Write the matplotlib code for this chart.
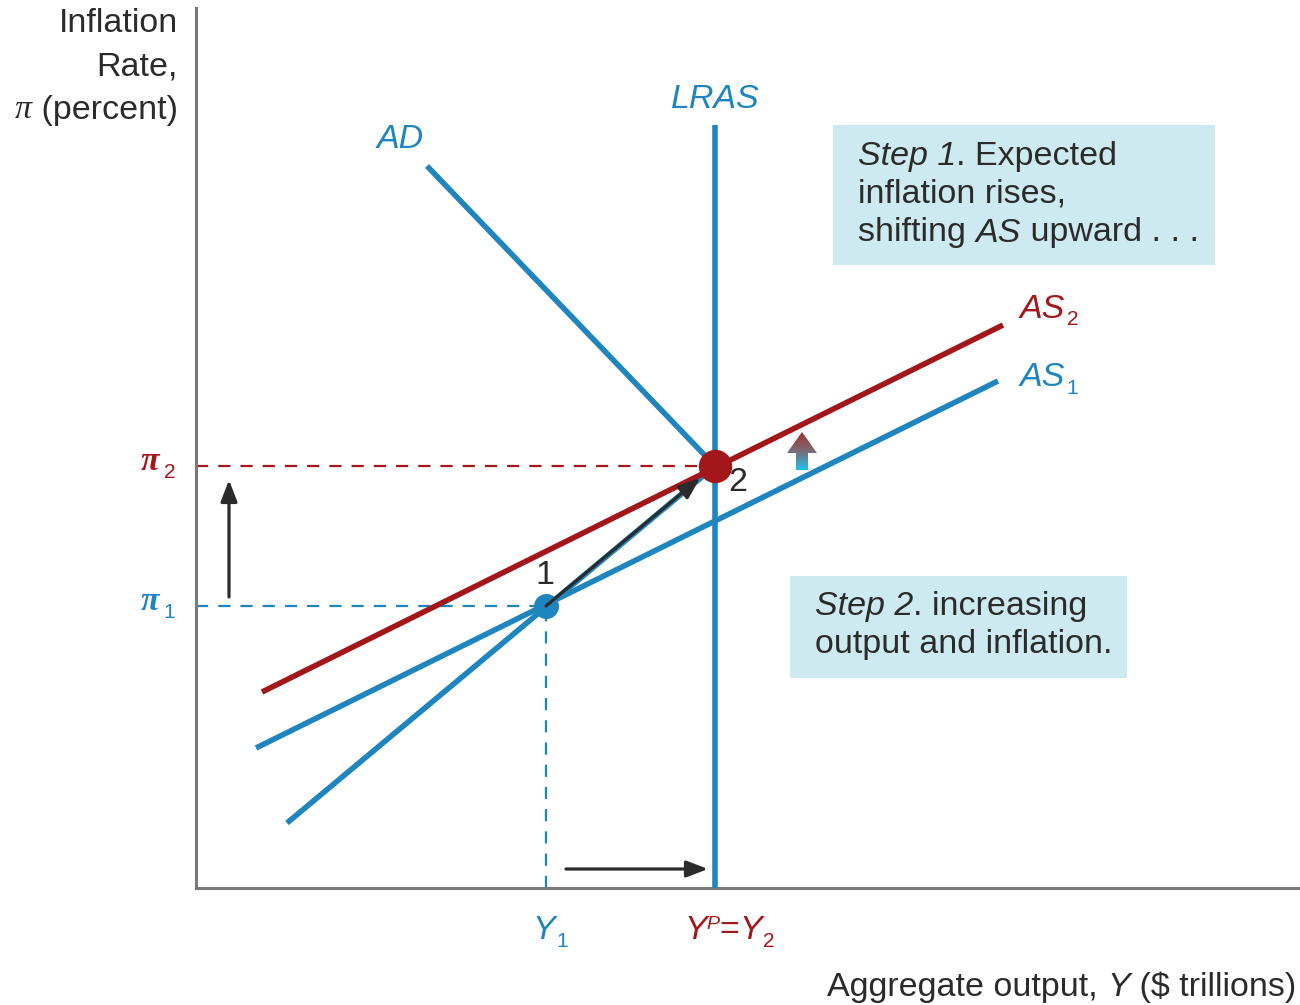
import matplotlib.pyplot as plt
import matplotlib.patches as mpatches
import numpy as np
from matplotlib.colors import LinearSegmentedColormap

plt.rcParams["font.family"] = ["Liberation Sans", "DejaVu Sans"]

BLUE = "#1e85bf"
RED = "#a3171b"
GRAY = "#7a7a7a"
BOX = "#cdeaf1"
INK = "#2b2b2b"

# Схематические значения (условные единицы)
Y1 = 3.50          # выпуск в точке 1
YP = 5.19          # потенциальный выпуск = Y2
PI1 = 2.82         # инфляция в точке 1
PI2 = 4.22         # инфляция в точке 2
LRAS_TOP = 7.63

AD_X = [2.31, YP]
AD_Y = [7.22, PI2]
AS1_X = [0.60, 8.02]
AS1_Y = [1.40, 5.07]
AS2_X = [0.66, 8.07]
AS2_Y = [1.96, 5.63]
PATH_X = [0.91, YP]
PATH_Y = [0.65, PI2]

fig = plt.figure(figsize=(13, 10.05), dpi=100)
W, H = 1300, 1005
ax = fig.add_axes([196 / W, (H - 888) / H, (W - 196) / W, (888 - 8) / H])
ax.set_xlim(0, 11.04)
ax.set_ylim(0, 8.80)
ax.set_xticks([])
ax.set_yticks([])
for s in ["top", "right"]:
    ax.spines[s].set_visible(False)
for s in ["left", "bottom"]:
    ax.spines[s].set_color(GRAY)
    ax.spines[s].set_linewidth(2.2)

# Пунктирные направляющие
dash = (5.5, 4.5)
ax.plot([0, YP], [PI2, PI2], color=RED, lw=1.6, dashes=dash)
ax.plot([0, Y1], [PI1, PI1], color=BLUE, lw=1.6, dashes=dash)
ax.plot([Y1, Y1], [0, PI1], color=BLUE, lw=1.6, dashes=dash)

# Кривые
lw = 4.0
ax.plot(PATH_X, PATH_Y, color=BLUE, lw=lw, solid_capstyle="butt")
ax.plot(AS1_X, AS1_Y, color=BLUE, lw=lw, solid_capstyle="butt")
ax.plot(AD_X, AD_Y, color=BLUE, lw=lw, solid_capstyle="butt")
ax.plot([YP, YP], [0, LRAS_TOP], color=BLUE, lw=lw, solid_capstyle="butt", zorder=3)
ax.plot(AS2_X, AS2_Y, color=RED, lw=lw, solid_capstyle="butt", zorder=4)

# Точки равновесия
ax.plot([Y1], [PI1], "o", color=BLUE, ms=17, zorder=5)
ax.plot([YP], [PI2], "o", color=RED, ms=23, zorder=6)

# Стрелки
arrow_kw = dict(arrowstyle="-|>,head_length=1.3,head_width=0.5", color=INK, lw=2.3,
                shrinkA=0, shrinkB=0)
ax.annotate("", xy=(5.04, 4.10), xytext=(Y1, PI1), arrowprops=arrow_kw, zorder=7)
ax.annotate("", xy=(0.33, 4.08), xytext=(0.33, 2.91), arrowprops=arrow_kw)
ax.annotate("", xy=(5.12, 0.19), xytext=(3.70, 0.19), arrowprops=arrow_kw)

# Градиентная стрелка сдвига AS
ax_x, y0, y1 = 6.06, 4.18, 4.56
hw, tw, hl = 0.15, 0.06, 0.21
poly = mpatches.Polygon([[ax_x - tw, y0], [ax_x + tw, y0], [ax_x + tw, y1 - hl],
                         [ax_x + hw, y1 - hl], [ax_x, y1], [ax_x - hw, y1 - hl],
                         [ax_x - tw, y1 - hl]], closed=True, facecolor="none",
                        edgecolor="none")
ax.add_patch(poly)
cmap = LinearSegmentedColormap.from_list("g", ["#1fc0ea", "#7a6a78", "#a2332c"])
grad = np.linspace(0, 1, 100).reshape(-1, 1)
im = ax.imshow(grad, extent=[ax_x - hw, ax_x + hw, y0, y1], origin="lower",
               cmap=cmap, aspect="auto", zorder=5)
im.set_clip_path(poly)

fs = 24.5


def chain(prev, text, **kw):
    """Дописывает текст сразу за предыдущим фрагментом."""
    return ax.annotate(text, xy=(1, 0), xycoords=prev, va="bottom", ha="left",
                       fontsize=kw.pop("fontsize", fs), **kw)


# Подписи кривых
ax.text(YP, 7.88, "LRAS", color=BLUE, fontsize=fs, style="italic", ha="center", va="center")
ax.text(2.04, 7.48, "AD", color=BLUE, fontsize=fs, style="italic", ha="center", va="center")
t = ax.text(8.24, 5.79, "AS", color=RED, fontsize=fs, style="italic", ha="left",
            va="center")
chain(t, "2", color=RED, fontsize=15, xytext=(1, -3), textcoords="offset points")
t = ax.text(8.24, 5.10, "AS", color=BLUE, fontsize=fs, style="italic", ha="left",
            va="center")
chain(t, "1", color=BLUE, fontsize=15, xytext=(1, -3), textcoords="offset points")
ax.text(3.49, 3.13, "1", color=INK, fontsize=fs, ha="center", va="center")
ax.text(5.42, 4.06, "2", color=INK, fontsize=fs, ha="center", va="center")

# Подписи на осях
for val, col, sub in [(PI2, RED, "2"), (PI1, BLUE, "1")]:
    t = ax.text(-0.55, val + 0.05, "π", color=col, fontsize=fs, family="Liberation Serif",
                style="italic", weight="bold", ha="left", va="center", clip_on=False)
    chain(t, sub, color=col, fontsize=15, xytext=(3, -4), textcoords="offset points")

t = ax.text(Y1 - 0.14, -0.42, "Y", color=BLUE, fontsize=fs, style="italic", ha="left",
            va="center", clip_on=False)
chain(t, "1", color=BLUE, fontsize=15, xytext=(1, -4), textcoords="offset points")
ty = ax.text(YP - 0.31, -0.42, "Y", color=RED, fontsize=fs, style="italic", ha="left",
             va="center", clip_on=False)
tp = ax.annotate("P", xy=(1, 1), xycoords=ty, va="top", ha="left", fontsize=14,
                 style="italic", color=RED, xytext=(0, -1), textcoords="offset points")
t = ax.annotate("=", xy=(1, 0), xycoords=(tp, ty), va="bottom", ha="left", fontsize=fs,
                color=RED)
t = chain(t, "Y", color=RED, style="italic")
chain(t, "2", color=RED, fontsize=15, xytext=(1, -4), textcoords="offset points")

fig.text(178 / W, 1 - 24 / H, "Inflation", fontsize=fs, color=INK, ha="right", va="center")
fig.text(178 / W, 1 - 67 / H, "Rate,", fontsize=fs, color=INK, ha="right", va="center")
t = fig.text(178 / W, 1 - 110 / H, " (percent)", fontsize=fs, color=INK, ha="right",
             va="center")
ax.annotate("π", xy=(0, 0), xycoords=t, ha="right", va="bottom", fontsize=fs,
            family="Liberation Serif", style="italic", color=INK)
t = fig.text(1296 / W, 1 - 987 / H, " ($ trillions)", fontsize=fs, color=INK,
             ha="right", va="center")
t = ax.annotate("Y", xy=(0, 0), xycoords=t, ha="right", va="bottom", fontsize=fs,
                style="italic", color=INK)
ax.annotate("Aggregate output, ", xy=(0, 0), xycoords=t, ha="right", va="bottom",
            fontsize=fs, color=INK)

# Пояснительные блоки
ax.add_patch(mpatches.Rectangle((6.37, 6.23), 3.82, 1.40, facecolor=BOX, edgecolor="none"))
t = ax.text(6.62, 7.32, "Step 1", fontsize=fs, color=INK, style="italic", va="center")
chain(t, ". Expected", color=INK)
ax.text(6.62, 6.94, "inflation rises,", fontsize=fs, color=INK, va="center")
t = ax.text(6.62, 6.55, "shifting ", fontsize=fs, color=INK, va="center")
t = chain(t, "AS", color=INK, style="italic")
chain(t, " upward . . .", color=INK)

ax.add_patch(mpatches.Rectangle((5.94, 2.10), 3.37, 1.02, facecolor=BOX, edgecolor="none"))
t = ax.text(6.19, 2.82, "Step 2", fontsize=fs, color=INK, style="italic", va="center")
chain(t, ". increasing", color=INK)
ax.text(6.19, 2.44, "output and inflation.", fontsize=fs, color=INK, va="center")

fig.savefig("out.png", dpi=100)
